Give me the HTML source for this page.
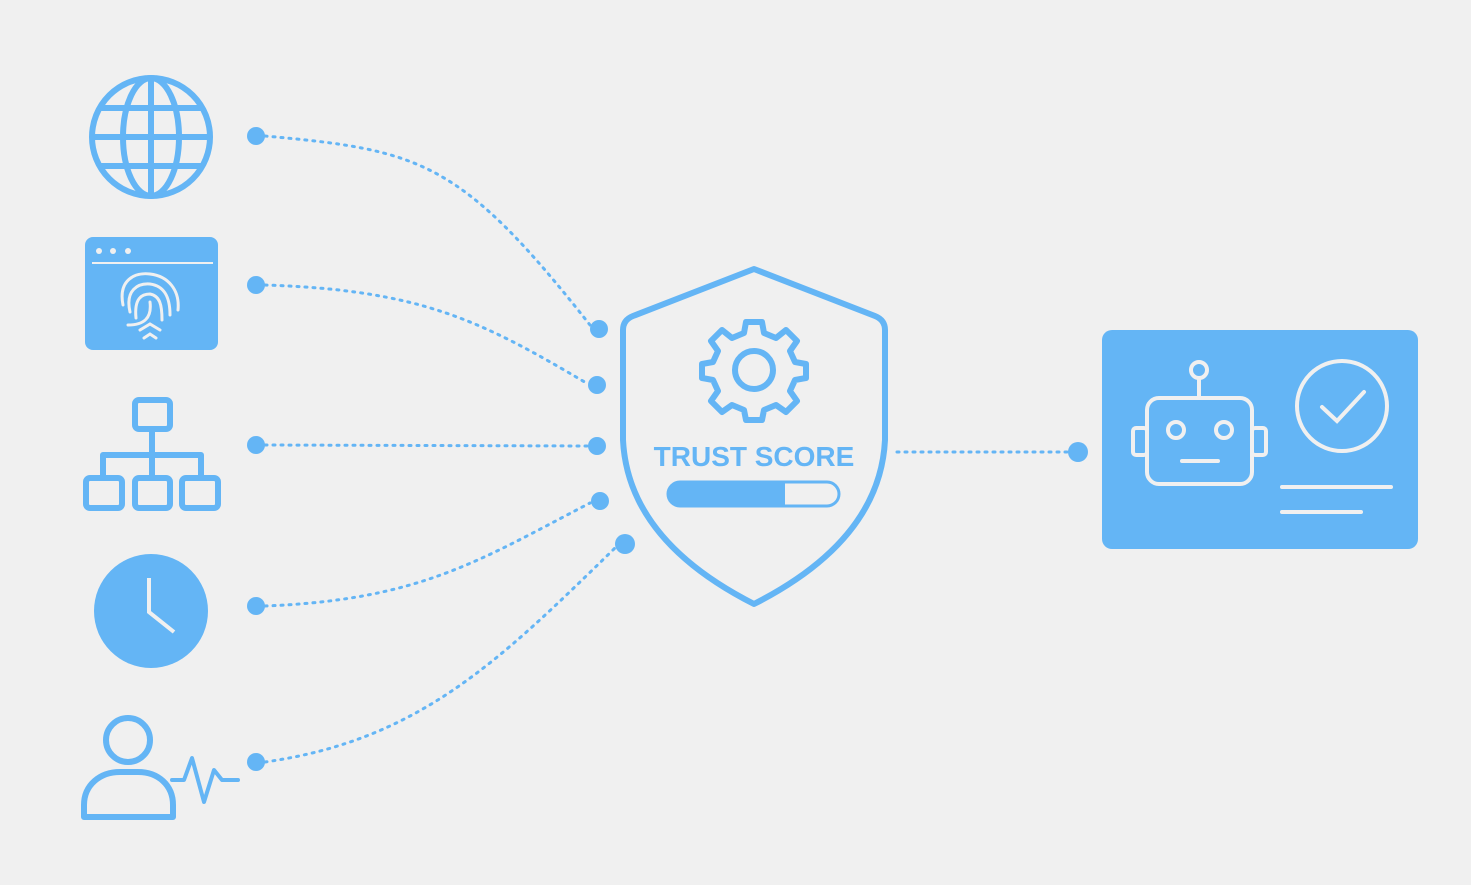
<!DOCTYPE html>
<html><head><style>body{margin:0;background:#f0f0f0}svg{display:block}</style></head><body>
<svg width="1471" height="885" viewBox="0 0 1471 885" xmlns="http://www.w3.org/2000/svg">
<rect width="1471" height="885" fill="#f0f0f0"/>
<g fill="none" stroke="#64b5f5" stroke-width="3" stroke-dasharray="2 6" stroke-linecap="round">
<path d="M265 136 C420 150 460 160 590 325"/>
<path d="M265 285 C420 290 480 320 588 384"/>
<path d="M265 445 L588 446"/>
<path d="M265 606 C420 600 480 560 590 503"/>
<path d="M265 762 C420 740 500 660 615 548"/>
<path d="M897 452 L1068 452"/>
</g>
<g fill="#64b5f5">
<circle cx="256" cy="136" r="9"/><circle cx="256" cy="285" r="9"/><circle cx="256" cy="445" r="9"/><circle cx="256" cy="606" r="9"/><circle cx="256" cy="762" r="9"/>
<circle cx="599" cy="329" r="9"/><circle cx="597" cy="385" r="9"/><circle cx="597" cy="446" r="9"/><circle cx="600" cy="501" r="9"/><circle cx="625" cy="544" r="10"/>
<circle cx="1078" cy="452" r="10"/>
</g>
<!-- globe -->
<g fill="none" stroke="#64b5f5" stroke-width="6">
<circle cx="151" cy="137" r="59"/>
<ellipse cx="151" cy="137" rx="28" ry="59"/>
<line x1="151" y1="78" x2="151" y2="196"/>
<line x1="92" y1="137" x2="210" y2="137"/>
<line x1="100" y1="108" x2="202" y2="108"/>
<line x1="100" y1="166" x2="202" y2="166"/>
</g>
<!-- browser fingerprint -->
<rect x="85" y="237" width="133" height="113" rx="8" fill="#64b5f5"/>
<g fill="#f0f0f0"><circle cx="99" cy="251" r="3"/><circle cx="113" cy="251" r="3"/><circle cx="128" cy="251" r="3"/></g>
<line x1="92" y1="263" x2="213" y2="263" stroke="#f0f0f0" stroke-width="2"/>
<g fill="none" stroke="#f0f0f0" stroke-width="3" stroke-linecap="round">
<path d="M123 305 C118 280 135 272 150 274 C168 276 180 290 178 310"/>
<path d="M130 312 C125 290 138 283 150 284 C165 286 170 298 170 315"/>
<path d="M136 318 C134 298 142 294 150 294 C160 296 162 305 162 320"/>
<path d="M150 302 C152 318 144 325 128 325"/>
<path d="M140 330 L150 324 L160 330"/><path d="M144 338 L150 334 L156 338"/>
</g>
<!-- org chart -->
<g fill="none" stroke="#64b5f5" stroke-width="6" stroke-linejoin="round">
<rect x="135" y="400" width="35" height="29" rx="4"/>
<path d="M152 429 V478 M103 478 V455 H201 V478"/>
<rect x="86" y="478" width="36" height="30" rx="4"/>
<rect x="135" y="478" width="35" height="30" rx="4"/>
<rect x="182" y="478" width="36" height="30" rx="4"/>
</g>
<!-- clock -->
<circle cx="151" cy="611" r="57" fill="#64b5f5"/>
<path d="M149 578 V612 L174 632" fill="none" stroke="#f0f0f0" stroke-width="4"/>
<!-- person -->
<g fill="none" stroke="#64b5f5" stroke-width="6" stroke-linejoin="round" stroke-linecap="round">
<circle cx="128" cy="740" r="22"/>
<path d="M84 817 V805 C84 785 100 772 120 772 H138 C158 772 173 785 173 805 V817 Z"/>
<path d="M172 780 H184 L192 758 L204 802 L214 770 L222 780 H238" stroke-width="4"/>
</g>
<!-- shield -->
<path d="M754 269 L875 316 Q885 320 885 330 L885 440 Q880 540 754 604 Q628 540 623 440 L623 330 Q623 320 633 316 Z" fill="none" stroke="#64b5f5" stroke-width="6" stroke-linejoin="round"/>
<g transform="translate(754,370)" fill="none" stroke="#64b5f5" stroke-width="6" stroke-linejoin="round">
<path d="M-8 -48 H8 L10 -37 L22 -32 L32 -40 L43 -29 L36 -19 L41 -8 L52 -6 V8 L41 10 L36 21 L43 31 L32 42 L22 35 L10 40 L8 50 H-8 L-10 40 L-22 35 L-32 42 L-43 31 L-36 21 L-41 10 L-52 8 V-6 L-41 -8 L-36 -19 L-43 -29 L-32 -40 L-22 -32 L-10 -37 Z"/>
<circle r="19"/>
</g>
<text x="754" y="466" text-anchor="middle" font-family="Liberation Sans, sans-serif" font-weight="bold" font-size="28" fill="#64b5f5">TRUST SCORE</text>
<rect x="668" y="482" width="171" height="24" rx="12" fill="none" stroke="#64b5f5" stroke-width="3"/>
<path d="M680 482 H785 V506 H680 A12 12 0 0 1 680 482 Z" fill="#64b5f5"/>
<!-- right card -->
<rect x="1102" y="330" width="316" height="219" rx="10" fill="#64b5f5"/>
<g fill="none" stroke="#f0f0f0" stroke-width="4" stroke-linecap="round">
<rect x="1147" y="398" width="105" height="86" rx="12"/>
<rect x="1133" y="428" width="14" height="27" rx="3"/>
<rect x="1252" y="428" width="14" height="27" rx="3"/>
<circle cx="1199" cy="370" r="8"/><line x1="1199" y1="378" x2="1199" y2="398"/>
<circle cx="1176" cy="430" r="8"/><circle cx="1224" cy="430" r="8"/>
<line x1="1182" y1="461" x2="1218" y2="461"/>
<circle cx="1342" cy="406" r="45"/>
<path d="M1322 407 L1337 421 L1364 392"/>
<line x1="1282" y1="487" x2="1391" y2="487"/>
<line x1="1282" y1="512" x2="1361" y2="512"/>
</g>
</svg>
</body></html>
